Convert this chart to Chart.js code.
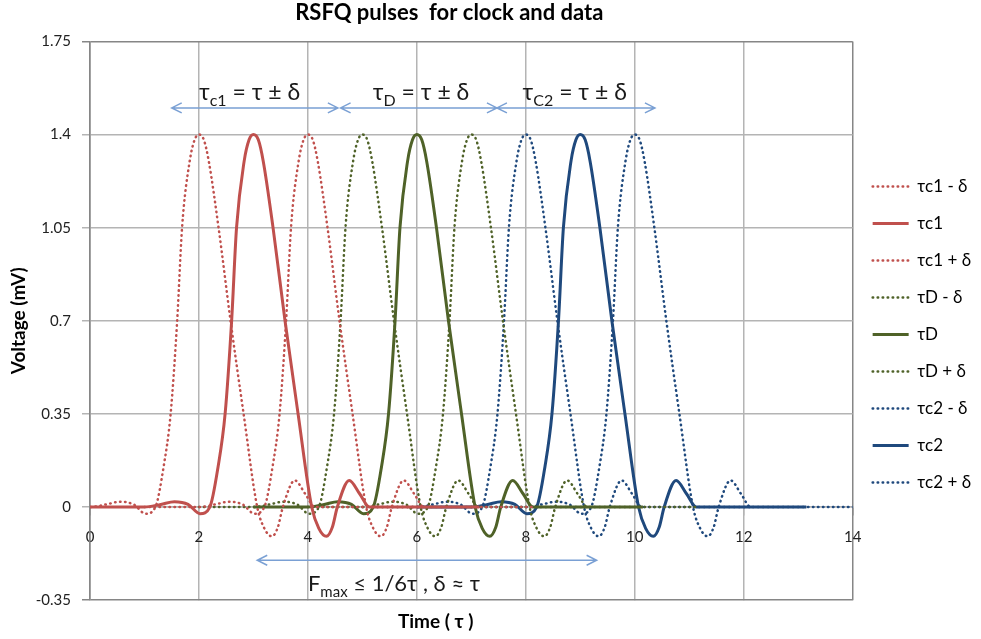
<!DOCTYPE html>
<html>
<head>
<meta charset="utf-8">
<script src="https://cdn.jsdelivr.net/npm/chart.js@4.4.1/dist/chart.umd.min.js"></script>
<style>
  html, body { margin: 0; padding: 0; background: #fff; }
  #wrap { width: 981px; height: 639px; position: relative; }
</style>
</head>
<body>
<div id="wrap"><canvas id="chart"></canvas></div>
<script>
const xTicks = [0, 2, 4, 6, 8, 10, 12, 14]
const yTicks = [-0.35, 0, 0.35, 0.7, 1.05, 1.4, 1.75]

const seriesNames = ['τc1 - δ', 'τc1', 'τc1 + δ', 'τD - δ', 'τD', 'τD + δ', 'τc2 - δ', 'τc2', 'τc2 + δ']
const pulseCenters = [2, 3, 4, 5, 6, 7, 8, 9, 10]
const seriesSolid = [false, true, false, false, true, false, false, true, false]
const seriesColors = ['#c0504d', '#c0504d', '#c0504d', '#4f6228', '#4f6228', '#4f6228', '#1f497d', '#1f497d', '#1f497d']

const pulseTime = [-3, -2, -1.7, -1.45, -1.2, -0.98, -0.8, -0.65, -0.52, -0.4, -0.31, -0.17, -0.08, 0, 0.09, 0.18, 0.36, 0.58, 0.82, 1.07, 1.2, 1.34, 1.45, 1.54, 1.76, 1.95, 2.13, 4.15]
const pulseVolt = [0, 0, 0.01, 0.02, 0.01, -0.025, 0, 0.15, 0.35, 0.7, 1.05, 1.3, 1.38, 1.4, 1.38, 1.3, 1.05, 0.7, 0.35, 0, -0.08, -0.11, -0.075, 0, 0.1, 0.05, 0, 0]

// annotation arrows: [from, to, level] in data units
const arrowSpans = [[1.5, 4.55, 1.5], [4.6, 7.47, 1.5], [7.47, 10.37, 1.5], [3.07, 9.3, -0.2]]
const noteTexts = [
  { x: 2.0, y: 1.53, size: 23, parts: [['τ', 0], ['c1', 1], [' = τ ± δ', 0]] },
  { x: 5.19, y: 1.53, size: 23, parts: [['τ', 0], ['D', 1], [' = τ ± δ', 0]] },
  { x: 7.94, y: 1.53, size: 23, parts: [['τ', 0], ['C2', 1], [' = τ ± δ', 0]] },
  { x: 4.0, y: -0.317, size: 22, parts: [['F', 0], ['max', 1], [' ≤ 1/6τ , δ ≈ τ', 0]] }
]

const FONT = 'Lato, "Open Sans", "DejaVu Sans", sans-serif'
const GRID = '#b4b4b4'
const EDGE = '#868686'

const notesPlugin = {
  id: 'notes',
  afterDatasetsDraw(chart) {
    const { ctx } = chart
    const sx = chart.scales.x
    const sy = chart.scales.y
    ctx.save()
    ctx.strokeStyle = '#7aa0d4'
    ctx.lineWidth = 1.5
    arrowSpans.forEach(([a, b, lvl]) => {
      const x0 = sx.getPixelForValue(a)
      const x1 = sx.getPixelForValue(b)
      const py = sy.getPixelForValue(lvl)
      ctx.beginPath()
      ctx.moveTo(x0, py)
      ctx.lineTo(x1, py)
      ctx.moveTo(x0 + 10, py - 5)
      ctx.lineTo(x0, py)
      ctx.lineTo(x0 + 10, py + 5)
      ctx.moveTo(x1 - 10, py - 5)
      ctx.lineTo(x1, py)
      ctx.lineTo(x1 - 10, py + 5)
      ctx.stroke()
    })
    ctx.fillStyle = '#1a1a1a'
    ctx.textBaseline = 'alphabetic'
    noteTexts.forEach(n => {
      let px = sx.getPixelForValue(n.x)
      const py = sy.getPixelForValue(n.y)
      n.parts.forEach(([txt, sub]) => {
        ctx.font = (sub ? Math.round(n.size * 0.68) : n.size) + 'px ' + FONT
        ctx.fillText(txt, px, sub ? py + 6 : py)
        px += ctx.measureText(txt).width
      })
    })
    ctx.restore()
  }
}

const datasets = seriesNames.map((name, i) => ({
  label: name,
  data: pulseTime.map((t, k) => ({ x: t + pulseCenters[i], y: pulseVolt[k] })),
  borderColor: seriesColors[i],
  backgroundColor: seriesColors[i],
  borderWidth: seriesSolid[i] ? 3 : 2.5,
  borderDash: seriesSolid[i] ? [] : [0.5, 4.5],
  borderCapStyle: seriesSolid[i] ? 'butt' : 'round',
  cubicInterpolationMode: 'monotone',
  pointRadius: 0,
  pointStyle: 'line',
  fill: false,
  clip: 0
}))

const tickFont = { family: FONT, size: 15 }

new Chart(document.getElementById('chart'), {
  type: 'line',
  data: { datasets },
  plugins: [notesPlugin],
  options: {
    responsive: true,
    maintainAspectRatio: false,
    animation: false,
    layout: { padding: { left: 0, right: 0, top: 0, bottom: 0 } },
    plugins: {
      title: {
        display: true,
        // trailing spaces nudge the centred title left, as in the original
        text: 'RSFQ pulses  for clock and data\u2003\u2003\u2002',
        fullSize: false,
        color: '#000',
        font: { family: FONT, size: 22, weight: 'bold', lineHeight: 1.2 },
        padding: { top: 0, bottom: 15 }
      },
      subtitle: {
        display: true,
        position: 'bottom',
        text: 'Time ( τ )\u2003\u2003\u2003\u2003\u2003',
        fullSize: false,
        color: '#000',
        font: { family: FONT, size: 19, weight: 'bold', lineHeight: 1.2 },
        padding: { top: 10, bottom: 6 }
      },
      legend: {
        position: 'right',
        labels: {
          usePointStyle: true,
          pointStyleWidth: 36,
          padding: 20,
          color: '#000',
          font: { family: FONT, size: 17 },
          generateLabels: chart => Chart.defaults.plugins.legend.labels.generateLabels(chart).map(item => {
            const ds = chart.data.datasets[item.datasetIndex]
            return { ...item, lineDash: ds.borderDash, lineWidth: ds.borderWidth, lineCap: ds.borderCapStyle, strokeStyle: ds.borderColor }
          })
        },
        title: {
          display: true,
          text: ' ',
          font: { size: 12, lineHeight: 1 },
          padding: { top: 18, bottom: 0 }
        }
      },
      tooltip: { enabled: false }
    },
    scales: {
      x: {
        type: 'linear',
        min: 0,
        max: 14,
        position: { y: 0 },
        afterBuildTicks: s => { s.ticks = xTicks.map(v => ({ value: v })) },
        grid: {
          color: c => (c.tick && (c.tick.value === 0 || c.tick.value === 14)) ? EDGE : GRID,
          lineWidth: 1.5,
          tickLength: 8
        },
        border: { color: GRID, width: 1.5 },
        ticks: { padding: 13, font: tickFont, color: '#222', maxRotation: 0 }
      },
      y: {
        type: 'linear',
        min: -0.35,
        max: 1.75,
        afterBuildTicks: s => { s.ticks = yTicks.map(v => ({ value: v })) },
        afterFit: s => { s.width = 90 },
        title: {
          display: true,
          text: 'Voltage (mV)',
          color: '#000',
          font: { family: FONT, size: 19, weight: 'bold', lineHeight: 1.2 },
          padding: { top: 7, bottom: 0 }
        },
        grid: {
          color: c => (c.tick && (c.tick.value === -0.35 || c.tick.value === 1.75)) ? EDGE : GRID,
          lineWidth: 1.5,
          tickLength: 8
        },
        border: { color: EDGE, width: 1.5 },
        ticks: { padding: 11, font: tickFont, color: '#222', callback: v => String(v) }
      }
    }
  }
})
</script>
</body>
</html>
